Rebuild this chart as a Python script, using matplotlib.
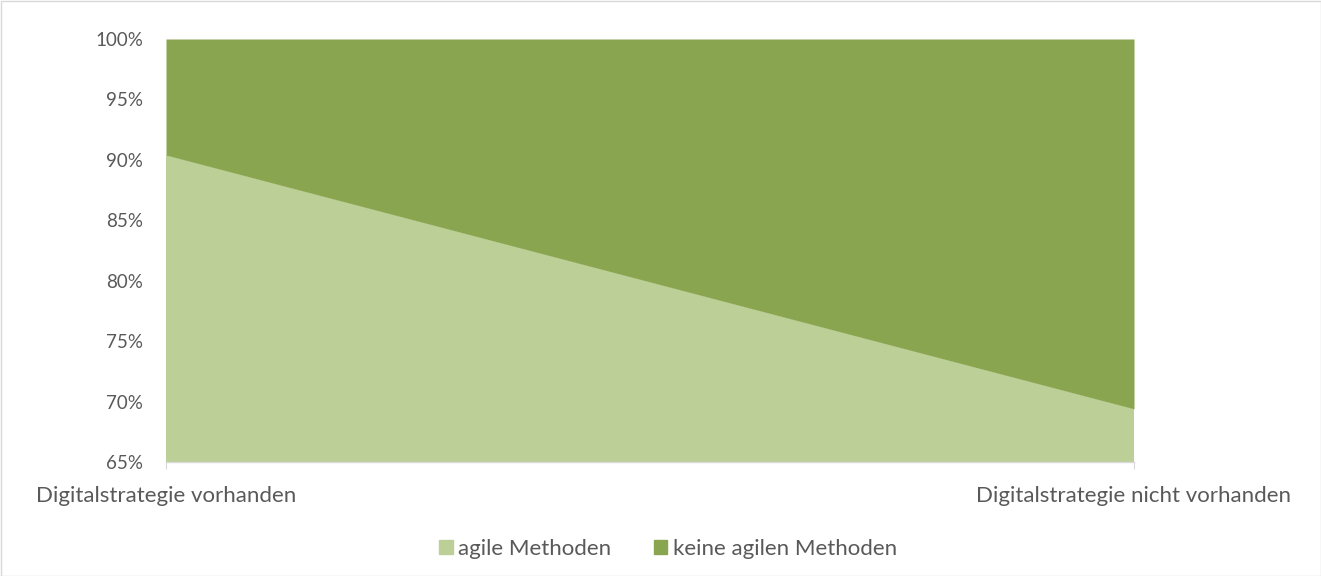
import matplotlib
matplotlib.use("Agg")
import matplotlib.pyplot as plt
from matplotlib.patches import Patch, Rectangle
import numpy as np

categories = ["Digitalstrategie vorhanden", "Digitalstrategie nicht vorhanden"]
agile = [90.4, 69.4]
keine_agile = [9.6, 30.6]
series_names = ["agile Methoden", "keine agilen Methoden"]
yticks = [65, 70, 75, 80, 85, 90, 95, 100]

c_light = "#BBCF97"
c_dark = "#8AA54F"
txt = "#595959"

plt.rcParams['font.family'] = ['Lato', 'DejaVu Sans']

fig = plt.figure(figsize=(13.21, 5.76), dpi=100)
ax = fig.add_axes([166/1321, 1-462/576, (1134-166)/1321, (462-39)/576])

x = np.arange(len(categories))
agile_a = np.array(agile)
tot = agile_a + np.array(keine_agile)
ax.fill_between(x, 0, agile_a, color=c_light, linewidth=0)
ax.fill_between(x, agile_a, tot, color=c_dark, linewidth=0)

ax.set_xlim(0, 1)
ax.set_ylim(65, 100)
ax.set_yticks(yticks)
ax.set_yticklabels([f"{v}%" for v in yticks])
ax.set_xticks(x)
ax.set_xticklabels(categories)
for s in ["top", "right", "left"]:
    ax.spines[s].set_visible(False)
ax.spines["bottom"].set_color("#D9D9D9")
ax.spines["bottom"].set_linewidth(1)
ax.tick_params(axis="y", length=0, pad=16.5, labelsize=13.5, labelcolor=txt)
ax.tick_params(axis="x", length=5, color="#D9D9D9", pad=12, labelsize=16, labelcolor=txt)

handles = [Patch(color=c_light), Patch(color=c_dark)]
fig.legend(handles, series_names, loc="center", bbox_to_anchor=(668/1321, 1-549/576),
           ncol=2, frameon=False, fontsize=16, labelcolor=txt,
           handlelength=0.6, handleheight=0.6, handletextpad=0.25, columnspacing=1.9)

fig.patches.append(Rectangle((0.5/1321, 0.5/576), 1-1/1321, 1-1/576, transform=fig.transFigure,
                             fill=False, edgecolor="#D9D9D9", linewidth=1))

fig.savefig("out.png", dpi=100, facecolor="white")
